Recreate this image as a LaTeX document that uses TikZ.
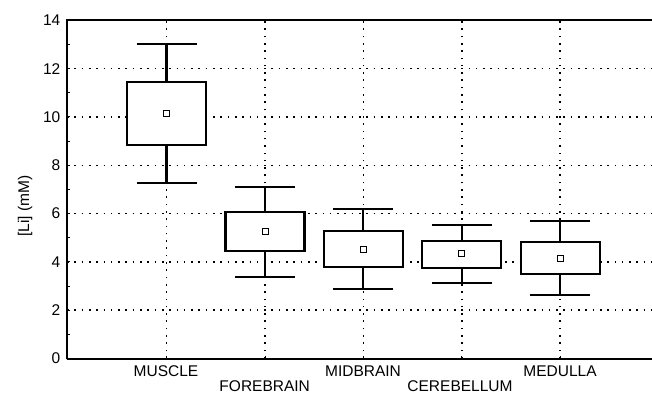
\documentclass[tikz,border=0pt]{standalone}
\usepackage{fontspec}
\setmainfont{Liberation Sans}
\newcommand\bplot[6]{%
  \draw[whisk] (#1-30,#2) -- (#1+30,#2) (#1,#2) -- (#1,#3) (#1,#5) -- (#1,#6) (#1-30,#6) -- (#1+30,#6);
  \draw[boxline] (#1-39.5,#3) rectangle (#1+39.5,#5);
  \draw[meanmark] (#1-3,#4) ++(0,-3pt) rectangle ++(6,6pt);
}
\begin{document}
\begin{tikzpicture}[x=1pt,y=1pt,
  axisline/.style={line width=2pt},
  gridline/.style={line width=1.6pt, dash pattern=on 1.6pt off 5.7pt},
  whisk/.style={line width=2.1pt},
  boxline/.style={line width=2.1pt, fill=white},
  meanmark/.style={line width=1pt, fill=white},
  ticklab/.style={font=\fontsize{15.5}{15.5}\selectfont, anchor=east, inner sep=0pt},
  catlab/.style={font=\fontsize{15.5}{15.5}\selectfont, inner sep=0pt}]
\useasboundingbox (0,0) rectangle (652,394);
\begin{scope}[y=24.15pt, yshift=35.5pt]
  \foreach \v in {2,4,...,12} \draw[gridline] (67,\v) -- (652,\v);
  \foreach \x in {166.5,265,363.4,461.8,560.2} {
    \draw[gridline] (\x,0) -- (\x,14);
    \draw[line width=1pt] (\x,0) -- ++(0,3pt) (\x,14) -- ++(0,-3pt);
  }
  \foreach \v in {1,2,...,13} \draw[line width=1pt] (67,\v) -- ++(3pt,0);
  \draw[axisline] (67,14) -- (652,14);
  \draw[axisline] (67,-0.04) -- (67,14.04);
  \draw[axisline] (67,0) -- (652,0);
  \foreach \v [count=\i] in {0,2,...,14} \node[ticklab] (t\i) at (60.5,\v) {\v};
  \bplot{166.5}{7.25}{8.83}{10.14}{11.44}{13.02}
  \bplot{265}{3.39}{4.44}{5.27}{6.07}{7.11}
  \bplot{363.4}{2.88}{3.78}{4.52}{5.27}{6.19}
  \bplot{461.8}{3.11}{3.76}{4.36}{4.85}{5.53}
  \bplot{560.2}{2.62}{3.50}{4.16}{4.84}{5.69}
\end{scope}
\node[catlab, rotate=90] (ylab) at (25,188) {[Li] (mM)};
\node[catlab] (c1) at (166,23) {MUSCLE};
\node[catlab] (c2) at (264.7,7.5) {FOREBRAIN};
\node[catlab] (c3) at (363,23) {MIDBRAIN};
\node[catlab] (c4) at (460,7.5) {CEREBELLUM};
\node[catlab] (c5) at (560,23) {MEDULLA};
\end{tikzpicture}
\end{document}
